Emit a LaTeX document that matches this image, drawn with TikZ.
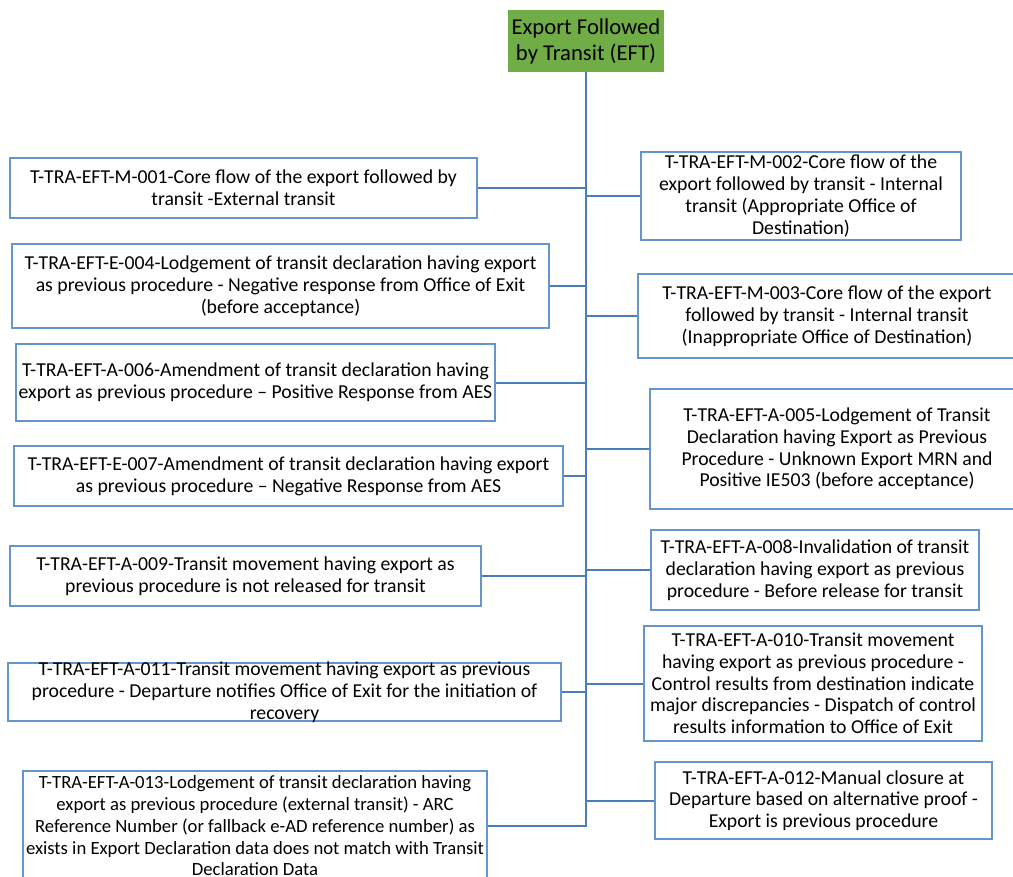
\documentclass[tikz,border=0pt]{standalone}
\usepackage{fontspec}
\setmainfont{Carlito}
\usepackage{tikz}
\usetikzlibrary{positioning,calc}
\definecolor{rootcolor}{RGB}{112, 173, 71}
\definecolor{boxcolor}{RGB}{100, 150, 205}
\definecolor{linecolor}{RGB}{74, 126, 187}
\tikzset{
casebox/.style={
  draw=boxcolor,
  line width=1.3pt,
  fill=white,
  align=center,
  inner sep=1pt,
  font=\fontsize{14.8pt}{16.3pt}\selectfont,
  text=black
},
rootbox/.style={
  fill=rootcolor,
  align=center,
  inner sep=1pt,
  minimum width=117pt,
  minimum height=46.5pt,
  font=\fontsize{17pt}{19.5pt}\selectfont,
  text=black
},
trunk/.style={
  draw=linecolor,
  line width=1.5pt
},
branch/.style={
  trunk
}
}

\begin{document}
\begin{tikzpicture}[x=0.75pt, y=-0.75pt]
  \useasboundingbox (0, 0) rectangle (1013, 876);

  % --- root ---
  \node[rootbox] (eft) at (586, 41) {Export Followed\\by Transit (EFT)};
  \coordinate (trunkend) at (587, 827);
  \draw[trunk] (eft.south) -- (eft.south |- trunkend);

  % --- left column ---
  \node[casebox, minimum width=350.25pt, minimum height=45pt] (m001) at (243.5, 188) {
      T-TRA-EFT-M-001-Core flow of the export followed by\\
      transit -External transit};
  \node[casebox, minimum width=402.75pt, minimum height=63pt] (e004) at (280.5, 286) {
      T-TRA-EFT-E-004-Lodgement of transit declaration having export\\
      as previous procedure - Negative response from Office of Exit\\
      (before acceptance)};
  \node[casebox, minimum width=359.25pt, minimum height=57.75pt] (a006) at (255.5, 382.5) {
      T-TRA-EFT-A-006-Amendment of transit declaration having\\
      export as previous procedure -- Positive Response from AES};
  \node[casebox, minimum width=411.75pt, minimum height=45pt] (e007) at (288.5, 476) {
      T-TRA-EFT-E-007-Amendment of transit declaration having export\\
      as previous procedure -- Negative Response from AES};
  \node[casebox, minimum width=353.25pt, minimum height=45pt] (a009) at (245.5, 576) {
      T-TRA-EFT-A-009-Transit movement having export as\\
      previous procedure is not released for transit};
  \node[casebox, minimum width=414.75pt, minimum height=43.5pt, inner ysep=-3pt] (a011) at (284.5, 692) {
      T-TRA-EFT-A-011-Transit movement having export as previous\\
      procedure - Departure notifies Office of Exit for the initiation of\\
      recovery};
  \node[casebox, minimum width=348pt, minimum height=82.5pt,
        font=\fontsize{14pt}{16.3pt}\selectfont] (a013) at (255, 826) {
      T-TRA-EFT-A-013-Lodgement of transit declaration having\\
      export as previous procedure (external transit) - ARC\\
      Reference Number (or fallback e-AD reference number) as\\
      exists in Export Declaration data does not match with Transit\\
      Declaration Data};

  % --- right column ---
  \node[casebox, minimum width=240pt, minimum height=66pt] (m002) at (801, 196) {
      T-TRA-EFT-M-002-Core flow of the\\
      export followed by transit - Internal\\
      transit (Appropriate Office of\\
      Destination)};
  \node[casebox, minimum width=283.5pt, minimum height=63pt] (m003) at (827, 316) {
      T-TRA-EFT-M-003-Core flow of the export\\
      followed by transit - Internal transit\\
      (Inappropriate Office of Destination)};
  \node[casebox, minimum width=280.5pt, minimum height=90pt] (a005) at (837, 449) {
      T-TRA-EFT-A-005-Lodgement of Transit\\
      Declaration having Export as Previous\\
      Procedure - Unknown Export MRN and\\
      Positive IE503 (before acceptance)};
  \node[casebox, minimum width=246pt, minimum height=60pt] (a008) at (815, 570) {
      T-TRA-EFT-A-008-Invalidation of transit\\
      declaration having export as previous\\
      procedure - Before release for transit};
  \node[casebox, minimum width=253.5pt, minimum height=86.25pt] (a010) at (813, 683.5) {
      T-TRA-EFT-A-010-Transit movement\\
      having export as previous procedure -\\
      Control results from destination indicate\\
      major discrepancies - Dispatch of control\\
      results information to Office of Exit};
  \node[casebox, minimum width=252.75pt, minimum height=57.75pt] (a012) at (823.5, 800.5) {
      T-TRA-EFT-A-012-Manual closure at\\
      Departure based on alternative proof -\\
      Export is previous procedure};

  % --- branches ---
  \foreach \c in {m001, e004, a006, e007, a009, a011, a013}
    \draw[branch] (\c.east) -- (\c.east -| trunkend);
  \foreach \c in {m002, m003, a005, a008, a010, a012}
    \draw[branch] (\c.west) -- (\c.west -| trunkend);
\end{tikzpicture}
\end{document}
